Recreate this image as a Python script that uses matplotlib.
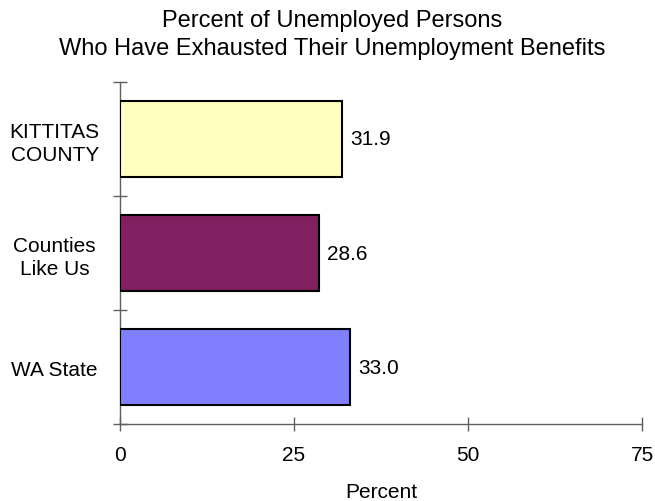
import matplotlib
matplotlib.use("Agg")
import matplotlib.pyplot as plt

plt.rcParams['font.family'] = ['Liberation Sans', 'DejaVu Sans']

categories = ["WA State", "Counties\nLike Us", "KITTITAS\nCOUNTY"]
values = [33.0, 28.6, 31.9]
colors = ["#8080FF", "#802060", "#FFFFC0"]
xticks = [0, 25, 50, 75]

fig = plt.figure(figsize=(6.55, 5.02), dpi=100)
ax = fig.add_axes([120/655, 1-425/502, (642-120)/655, (425-83)/502])

pos = list(range(len(categories)))
bars = ax.barh(pos, values, height=0.66, color=colors, edgecolor='black', linewidth=1.5, zorder=3)
for p, v in zip(pos, values):
    ax.annotate(f"{v:.1f}", xy=(v, p), xytext=(6, 0), textcoords='offset points',
                ha='left', va='center', fontsize=15)

ax.set_xlim(0, 75)
ax.set_ylim(-0.5, len(categories) - 0.5)
ax.set_xticks(xticks)
ax.set_xticklabels([str(t) for t in xticks], fontsize=15)
ax.set_yticks(pos)
ax.set_yticklabels(categories, fontsize=15, ha='center', multialignment='center', linespacing=1.25)
ax.set_yticks([p - 0.5 for p in pos] + [len(categories) - 0.5], minor=True)
ax.tick_params(axis='y', which='major', length=0, pad=47)
ax.tick_params(axis='y', which='minor', length=10, direction='inout', color='#606060', width=1)
ax.tick_params(axis='x', which='major', length=10, direction='inout', color='#606060', width=1, pad=10)

for s in ['top', 'right']:
    ax.spines[s].set_visible(False)
for s in ['left', 'bottom']:
    ax.spines[s].set_color('#606060')
    ax.spines[s].set_linewidth(1)

ax.set_xlabel("Percent", fontsize=15, labelpad=13)
fig.text(332/655, 1-35/502, "Percent of Unemployed Persons\nWho Have Exhausted Their Unemployment Benefits",
         ha='center', va='center', fontsize=17, linespacing=1.35)

fig.savefig("out.png", dpi=100)
